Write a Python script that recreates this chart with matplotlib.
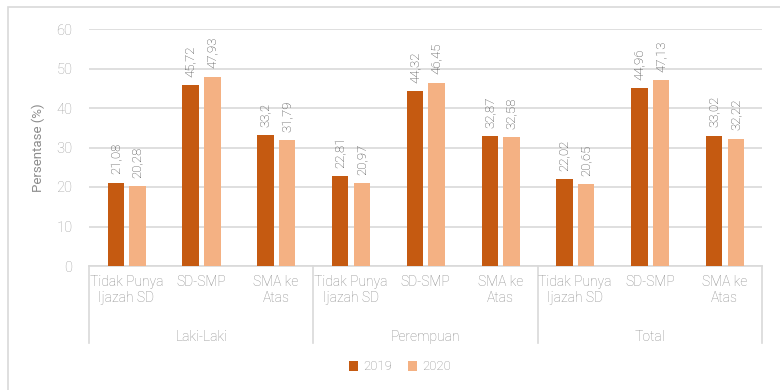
import numpy as np
import matplotlib.pyplot as plt
from matplotlib.patches import Rectangle
import matplotlib.transforms as mtransforms

plt.rcParams['font.family'] = ['Roboto', 'DejaVu Sans']
plt.rcParams['font.weight'] = 'light'

groups = ['Laki-Laki', 'Perempuan', 'Total']
categories = ['Tidak Punya\nIjazah SD', 'SD-SMP', 'SMA ke\nAtas'] * 3
values_2019 = [21.08, 45.72, 33.2, 22.81, 44.32, 32.87, 22.02, 44.96, 33.02]
values_2020 = [20.28, 47.93, 31.79, 20.97, 46.45, 32.58, 20.65, 47.13, 32.22]
labels_2019 = ['21,08', '45,72', '33,2', '22,81', '44,32', '32,87', '22,02', '44,96', '33,02']
labels_2020 = ['20,28', '47,93', '31,79', '20,97', '46,45', '32,58', '20,65', '47,13', '32,22']

c2019 = '#C55A11'
c2020 = '#F4B183'
grid_c = '#D9D9D9'
text_c = '#8C8C8C'

fig = plt.figure(figsize=(7.8, 3.9), dpi=100)
# light frame around the chart
fig.patches.append(Rectangle((8 / 780, -0.05), 1.1, 1 - 7 / 390 + 0.05,
                             transform=fig.transFigure, fill=False,
                             edgecolor='#D9D9D9', linewidth=1.2))

ax = fig.add_axes([89 / 780, 1 - 266 / 390, (762 - 89) / 780, (266 - 29) / 390])
x = np.arange(len(categories))
w = 0.22
b1 = ax.bar(x - 0.14, values_2019, w, color=c2019, label='2019', zorder=3)
b2 = ax.bar(x + 0.15, values_2020, w, color=c2020, label='2020', zorder=3)

for bars, labs in ((b1, labels_2019), (b2, labels_2020)):
    for bar, lab in zip(bars, labs):
        ax.annotate(lab, (bar.get_x() + bar.get_width() / 2, bar.get_height()),
                    xytext=(0, 6), textcoords='offset points', rotation=90,
                    ha='center', va='bottom', fontsize=9.5, color='#404040')

ax.set_ylim(0, 60)
ax.set_xlim(-0.5, len(categories) - 0.5)
ax.set_yticks(range(0, 61, 10))
ax.yaxis.grid(True, color=grid_c, linewidth=1.2, zorder=0)
ax.tick_params(axis='y', length=0, pad=12, labelsize=10.5, labelcolor='#A0A0A0')
ax.set_xticks([])
for s in ['left', 'right', 'top']:
    ax.spines[s].set_visible(False)
ax.spines['bottom'].set_color(grid_c)
ax.spines['bottom'].set_linewidth(1.2)
ax.set_ylabel('Persentase (%)', fontsize=9.5, color=text_c, labelpad=8)

# two-level category axis
trans = mtransforms.blended_transform_factory(ax.transData, ax.transAxes)
for i, cat in enumerate(categories):
    ax.text(x[i], -0.04, cat, transform=trans, ha='center', va='top',
            fontsize=10, color=text_c, linespacing=1.1)
for g, name in enumerate(groups):
    ax.text(3 * g + 1, -0.27, name, transform=trans, ha='center', va='top',
            fontsize=10, color=text_c)
for edge in [-0.5, 2.5, 5.5, 8.5]:
    ax.plot([edge, edge], [0, -77 / 237], transform=trans, color=grid_c,
            linewidth=1.2, clip_on=False)

fig.legend(handles=[b1, b2], loc='center', bbox_to_anchor=(400 / 780, 1 - 367 / 390),
           ncol=2, frameon=False, fontsize=9.5, handlelength=0.7, handleheight=0.7,
           handletextpad=0.4, columnspacing=1.2, labelcolor=text_c)

fig.savefig('out.png', dpi=100)
